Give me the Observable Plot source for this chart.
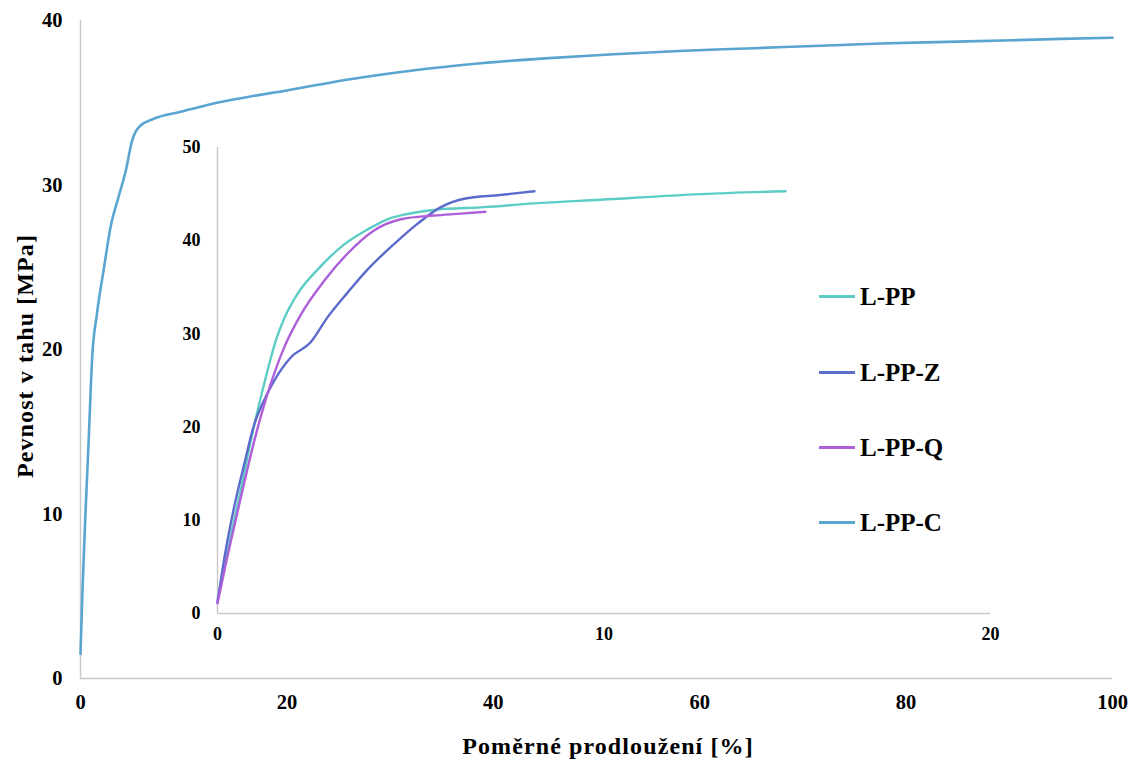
<!DOCTYPE html>
<html>
<head>
<meta charset="utf-8">
<script src="https://cdn.jsdelivr.net/npm/d3@7"></script>
<script src="https://cdn.jsdelivr.net/npm/@observablehq/plot@0.6"></script>
<style>
  html, body { margin: 0; padding: 0; background: #fff; }
  #wrap { position: relative; width: 1138px; height: 764px; font-family: "Liberation Serif", "DejaVu Serif", serif; font-weight: bold; color: #000; }
  #wrap svg { position: absolute; left: 0; top: 0; background: transparent; }
  .title { position: absolute; font-size: 24px; letter-spacing: 1.1px; white-space: nowrap; line-height: 1; }
  #legend { position: absolute; left: 819px; top: 0; }
  .item { position: absolute; left: 0; height: 32px; margin-top: -16px; display: flex; align-items: center; white-space: nowrap; font-size: 25px; line-height: 1; }
  .swatch { width: 36px; height: 3px; margin-right: 5px; }
</style>
</head>
<body>
<div id="wrap"></div>
<script>
// ---- data ----
const seriesNames = ["L-PP", "L-PP-Z", "L-PP-Q", "L-PP-C"];
const seriesColors = ["#5ccdc4", "#5a6bcc", "#ad5fd9", "#5aa5d0"];

// main chart: L-PP-C (x = %, y = MPa)
const cX = [0, 0.2, 0.48, 0.8, 1.13, 1.6, 2.26, 2.9, 3.7, 4.4, 5.0, 5.4, 5.8, 7.0, 9.7, 12.5, 16.2, 20, 25.8, 32, 38.8, 45, 51.7, 58, 64.6, 71, 77.5, 84, 90.4, 95, 100];
const cY = [1.5, 5.5, 10.0, 14.6, 19.5, 22.2, 24.9, 27.4, 29.3, 30.9, 32.7, 33.3, 33.6, 34.0, 34.45, 34.9, 35.35, 35.75, 36.4, 36.95, 37.4, 37.7, 37.95, 38.15, 38.3, 38.45, 38.6, 38.7, 38.8, 38.88, 38.95];

// inset: L-PP
const ppX = [0, 0.3, 0.6, 0.86, 1.08, 1.29, 1.51, 1.72, 2.07, 2.59, 3.28, 3.88, 4.4, 4.83, 5.6, 6.9, 8.19, 9.92, 12.5, 14.7];
const ppY = [1.4, 7.5, 13.2, 18.5, 22.5, 26.0, 29.3, 31.6, 34.3, 36.9, 39.6, 41.2, 42.3, 42.8, 43.3, 43.6, 44.0, 44.4, 45.0, 45.3];
// inset: L-PP-Z
const pzX = [0, 0.2, 0.43, 0.69, 0.95, 1.12, 1.47, 1.9, 2.41, 2.85, 3.36, 3.88, 4.56, 5.17, 5.78, 6.38, 7.3, 8.2];
const pzY = [1.2, 6.5, 11.4, 16.0, 20.3, 22.1, 25.0, 27.5, 29.1, 31.8, 34.4, 36.9, 39.6, 41.8, 43.6, 44.5, 44.9, 45.3];
// inset: L-PP-Q
const pqX = [0, 0.25, 0.6, 0.95, 1.29, 1.72, 2.16, 2.76, 3.36, 4.05, 4.74, 5.6, 6.3, 6.93];
const pqY = [1.1, 6.0, 12.4, 18.5, 23.5, 28.5, 32.1, 35.7, 38.6, 41.1, 42.3, 42.7, 42.9, 43.1];

// tick labels
const mainXTicks = [0, 20, 40, 60, 80, 100];
const mainYTicks = [0, 10, 20, 30, 40];
const insetXTicks = [0, 10, 20];
const insetYTicks = [0, 10, 20, 30, 40, 50];

const xTitle = "Poměrné prodloužení [%]";
const yTitle = "Pevnost v tahu [MPa]";

// ---- build tables ----
const toRows = (xs, ys, name) => xs.map((x, i) => ({x, y: ys[i], s: name}));
const mainRows = toRows(cX, cY, seriesNames[3]);
const insetRows = [
  ...toRows(ppX, ppY, seriesNames[0]),
  ...toRows(pzX, pzY, seriesNames[1]),
  ...toRows(pqX, pqY, seriesNames[2])
];
const colorScale = {domain: seriesNames, range: seriesColors};
const axisGrey = "#c9c9c9";
const fontStack = "'Liberation Serif', 'DejaVu Serif', serif";
const mainStyle = {fontFamily: fontStack, fontSize: "20.5px", fontWeight: "bold", color: "#000", background: "transparent", overflow: "visible"};
const insetStyle = {...mainStyle, fontSize: "18px"};

const wrap = document.getElementById("wrap");

const mainPlot = Plot.plot({
  width: 1138, height: 764,
  marginLeft: 80, marginRight: 26, marginTop: 20, marginBottom: 86,
  style: mainStyle,
  x: {domain: [0, 100], label: null},
  y: {domain: [0, 40], label: null},
  color: colorScale,
  marks: [
    Plot.ruleX([0], {stroke: axisGrey, strokeWidth: 1.5}),
    Plot.ruleY([0], {stroke: axisGrey, strokeWidth: 1.5}),
    Plot.axisX(mainXTicks, {tickSize: 0, tickPadding: 16, label: null, fill: "#000"}),
    Plot.axisY(mainYTicks, {tickSize: 0, tickPadding: 18, label: null, fill: "#000"}),
    Plot.line(mainRows, {x: "x", y: "y", stroke: "s", strokeWidth: 2.6, curve: "monotone-x"})
  ]
});
wrap.appendChild(mainPlot);

const insetPlot = Plot.plot({
  width: 1138, height: 764,
  marginLeft: 217, marginRight: 148, marginTop: 147, marginBottom: 151,
  style: insetStyle,
  x: {domain: [0, 20], label: null},
  y: {domain: [0, 50], label: null},
  color: colorScale,
  marks: [
    Plot.ruleX([0], {stroke: axisGrey, strokeWidth: 1.5}),
    Plot.ruleY([0], {stroke: axisGrey, strokeWidth: 1.5}),
    Plot.axisX(insetXTicks, {tickSize: 0, tickPadding: 14, label: null, fill: "#000"}),
    Plot.axisY(insetYTicks, {tickSize: 0, tickPadding: 17, label: null, fill: "#000"}),
    Plot.line(insetRows, {x: "x", y: "y", stroke: "s", z: "s", strokeWidth: 2.4, curve: "monotone-x"})
  ]
});
wrap.appendChild(insetPlot);

// axis titles
const xt = document.createElement("div");
xt.className = "title";
xt.textContent = xTitle;
xt.style.left = "608px"; xt.style.top = "746px";
xt.style.transform = "translate(-50%, -50%)";
wrap.appendChild(xt);

const yt = document.createElement("div");
yt.className = "title";
yt.textContent = yTitle;
yt.style.left = "25px"; yt.style.top = "356px";
yt.style.transform = "translate(-50%, -50%) rotate(-90deg)";
wrap.appendChild(yt);

// legend
const legend = document.createElement("div");
legend.id = "legend";
const legendCenters = [296, 372, 447, 522];
seriesNames.forEach((name, i) => {
  const it = document.createElement("div");
  it.className = "item";
  it.style.top = legendCenters[i] + "px";
  const sw = document.createElement("span");
  sw.className = "swatch";
  sw.style.background = seriesColors[i];
  const lb = document.createElement("span");
  lb.textContent = name;
  it.appendChild(sw); it.appendChild(lb);
  legend.appendChild(it);
});
wrap.appendChild(legend);
</script>
</body>
</html>
